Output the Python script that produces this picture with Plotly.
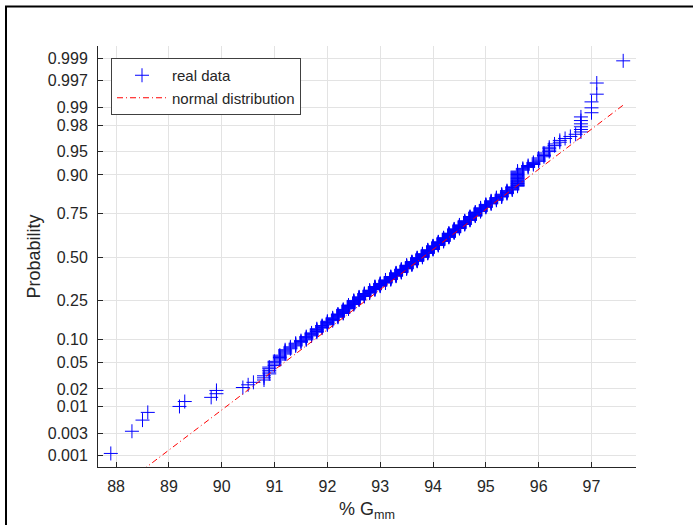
import numpy as np
import plotly.graph_objects as go
from statistics import NormalDist

# Measured %Gmm values (0.1 resolution) and how many samples share each value
gmm_values = [87.9, 88.3, 88.5, 88.6, 89.2, 89.3, 89.8, 89.9, 90.4, 90.5, 90.6,
              90.8, 90.9, 91.0, 91.1, 91.2, 91.3, 91.4, 91.5, 91.6, 91.7,
              91.8, 91.9, 92.0, 92.1, 92.2, 92.3, 92.4, 92.5, 92.6, 92.7,
              92.8, 92.9, 93.0, 93.1, 93.2, 93.3, 93.4, 93.5, 93.6, 93.7,
              93.8, 93.9, 94.0, 94.1, 94.2, 94.3, 94.4, 94.5, 94.6, 94.7,
              94.8, 94.9, 95.0, 95.1, 95.2, 95.3, 95.4, 95.5, 95.6, 95.7,
              95.8, 95.9, 96.0, 96.1, 96.2, 96.3, 96.4, 96.5, 96.6, 96.7,
              96.8, 97.0, 97.1, 97.6]
gmm_counts = [1, 1, 1, 1, 1, 1, 1, 2, 1, 1, 1,
              3, 5, 4, 5, 5, 3, 4, 3, 5, 5,
              6, 5, 7, 6, 7, 9, 9, 10, 8, 8,
              8, 9, 8, 9, 9, 10, 10, 11, 10, 11,
              11, 11, 11, 11, 11, 12, 11, 10, 10, 10,
              10, 9, 7, 7, 6, 6, 6, 6, 21, 3,
              3, 3, 4, 4, 4, 2, 2, 1, 1, 1,
              6, 3, 2, 1]

# Parameters of the reference normal distribution
fit_mean = 93.81
fit_std = 1.60

prob_ticks = [0.001, 0.003, 0.01, 0.02, 0.05, 0.10, 0.25, 0.50,
              0.75, 0.90, 0.95, 0.98, 0.99, 0.997, 0.999]
prob_labels = ["0.001", "0.003", "0.01", "0.02", "0.05", "0.10", "0.25", "0.50",
               "0.75", "0.90", "0.95", "0.98", "0.99", "0.997", "0.999"]
x_ticks = [88, 89, 90, 91, 92, 93, 94, 95, 96, 97]

nd = NormalDist()

# Normal probability plot: sorted data vs. probit of plotting positions
data = np.sort(np.repeat(np.array(gmm_values), gmm_counts))
n = data.size
pp = (np.arange(1, n + 1) - 0.5) / n
z_data = np.array([nd.inv_cdf(p) for p in pp])

x_line = np.array([data.min(), data.max()])
z_line = (x_line - fit_mean) / fit_std

tick_z = [nd.inv_cdf(p) for p in prob_ticks]

TXT = "#262626"
GRID = "#e3e3e3"
FONT = "Liberation Sans, Arial, sans-serif"

fig = go.Figure()
fig.add_trace(go.Scatter(
    x=data, y=z_data, mode="markers", name="real data",
    marker=dict(symbol="cross-thin", size=10, color="#0000ff",
                line=dict(width=1, color="#0000ff")),
))
fig.add_trace(go.Scatter(
    x=x_line, y=z_line, mode="lines", name="normal distribution",
    line=dict(color="#ff0000", width=1, dash="6px,3px,1px,3px"),
))

W, H = 693, 525
ml, mr, mt, mb = 98, 57, 46, 58
pw, ph = W - ml - mr, H - mt - mb

fig.update_layout(
    width=W, height=H,
    margin=dict(l=ml, r=mr, t=mt, b=mb, pad=0),
    paper_bgcolor="white", plot_bgcolor="white",
    font=dict(family=FONT, color=TXT, size=16),
    showlegend=True,
    legend=dict(
        x=(111 - ml) / pw, y=(H - mb - 58) / ph,
        xanchor="left", yanchor="top",
        bgcolor="white", bordercolor="#404040", borderwidth=1,
        font=dict(family=FONT, size=15, color=TXT),
        tracegroupgap=0, itemwidth=50,
    ),
    xaxis=dict(
        range=[87.6575, 97.8425], automargin=False,
        tickvals=x_ticks, ticktext=[str(v) for v in x_ticks],
        showline=True, linecolor=TXT, linewidth=1, mirror=False,
        ticks="inside", ticklen=5, tickcolor=TXT, tickwidth=1,
        showgrid=True, gridcolor=GRID, gridwidth=1, zeroline=False,
        tickfont=dict(family=FONT, size=16, color=TXT),
        ticklabelstandoff=5,
        title=dict(text="% G<sub>mm</sub>", font=dict(family=FONT, size=18, color=TXT),
                   standoff=8),
    ),
    yaxis=dict(
        range=[-3.27, 3.29], automargin=False,
        tickvals=tick_z, ticktext=prob_labels,
        showline=True, linecolor=TXT, linewidth=1, mirror=False,
        ticks="inside", ticklen=5, tickcolor=TXT, tickwidth=1,
        showgrid=True, gridcolor=GRID, gridwidth=1, zeroline=False,
        tickfont=dict(family=FONT, size=16, color=TXT),
        ticklabelstandoff=6,
        title=dict(text="Probability", font=dict(family=FONT, size=18, color=TXT),
                   standoff=2),
    ),
    shapes=[dict(
        type="rect", xref="paper", yref="paper",
        x0=(6 - ml) / pw, x1=(W + 20 - ml) / pw,
        y0=(H - mb - (H + 20)) / ph, y1=(H - mb - 6.5) / ph,
        line=dict(color="black", width=2), fillcolor="rgba(0,0,0,0)",
        layer="above",
    )],
)

fig.write_html("out.html")
